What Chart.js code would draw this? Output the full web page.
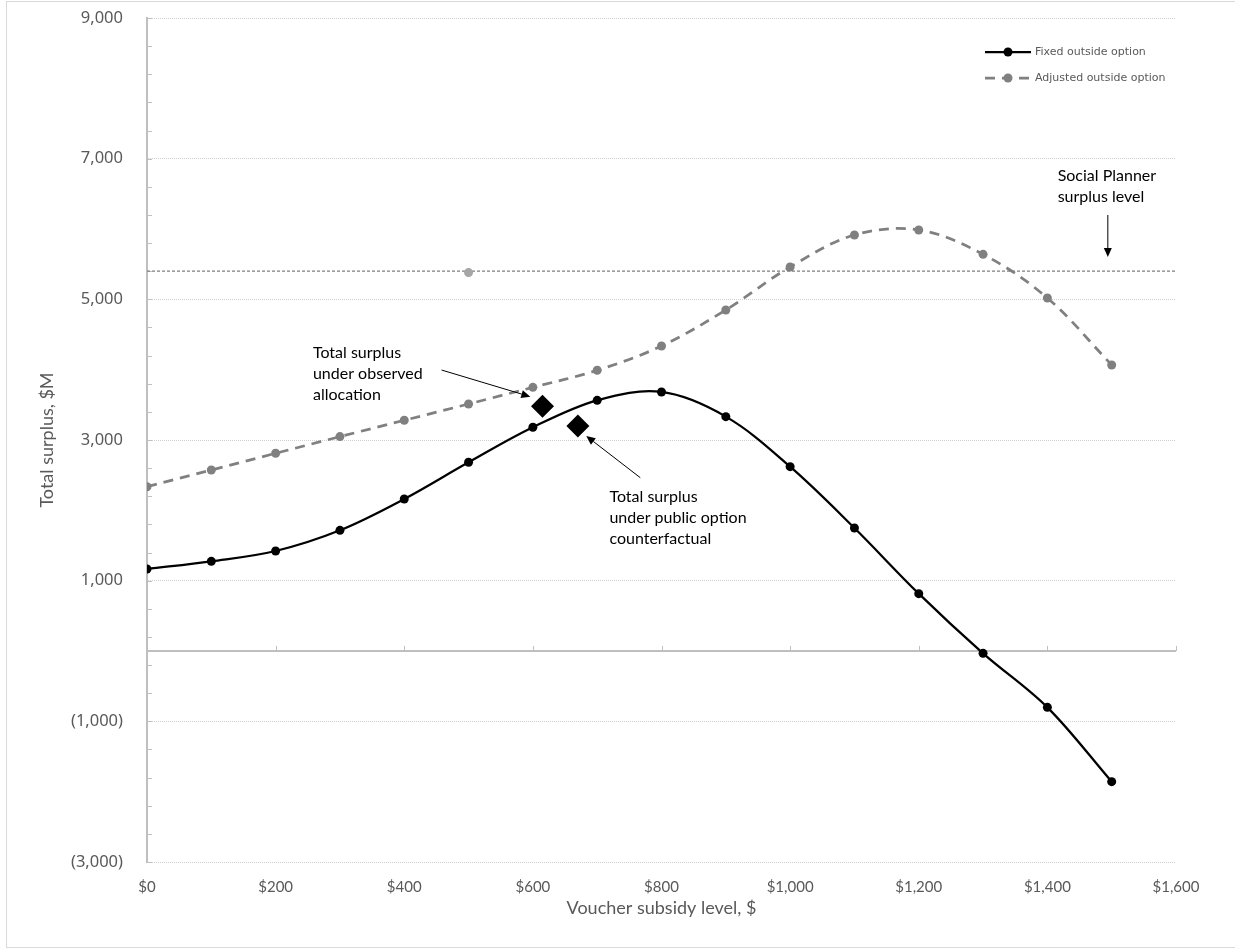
<!DOCTYPE html>
<html>
<head>
<meta charset="utf-8">
<title>Total surplus by voucher subsidy level</title>
<script src="https://cdn.jsdelivr.net/npm/chart.js@4.4.1/dist/chart.umd.min.js"></script>
<style>
  html, body { margin: 0; padding: 0; background: #fff; }
  #wrap { width: 1235px; height: 949px; position: relative; }
</style>
</head>
<body>
<div id="wrap"><canvas id="surplusChart"></canvas></div>
<script>
// valeurs (en $M)
const voucherLevels = [0, 100, 200, 300, 400, 500, 600, 700, 800, 900, 1000, 1100, 1200, 1300, 1400, 1500];
const fixedOutside = [1166, 1275, 1422, 1716, 2161, 2683, 3181, 3564, 3683, 3332, 2621, 1749, 815, -33, -801, -1858];
const adjustedOutside = [2336, 2573, 2811, 3048, 3280, 3512, 3749, 3991, 4337, 4849, 5460, 5915, 5986, 5640, 5019, 4067];
const strayPoint = [{ x: 500, y: 5380 }];
const plannerLevel = 5400;
const observedAllocation = [{ x: 615, y: 3480 }];
const publicOption = [{ x: 670, y: 3200 }];
const yLabelValues = [-3000, -1000, 1000, 3000, 5000, 7000, 9000];

const GREY_TXT = '#595959';
const AXIS_GREY = '#bfbfbf';

function fmtY(v) {
    const s = Math.abs(v).toLocaleString('en-US');
    return v < 0 ? '(' + s + ')' : s;
}
function fmtX(v) { return '$' + v.toLocaleString('en-US'); }

// annotations, positions in data units
const notes = [
    { lines: ['Total surplus', 'under observed', 'allocation'], x: 258, y: 4241, from: [458, 3995], to: [596, 3616] },
    { lines: ['Total surplus', 'under public option', 'counterfactual'], x: 719, y: 2194, from: [767, 2464], to: [683, 3057] },
    { lines: ['Social Planner', 'surplus level'], x: 1416, y: 6754, from: [1494, 6199], to: [1494, 5602] }
];

function arrow(ctx, x1, y1, x2, y2) {
    const a = Math.atan2(y2 - y1, x2 - x1);
    const len = 9, half = 4;
    ctx.beginPath();
    ctx.moveTo(x1, y1);
    ctx.lineTo(x2 - Math.cos(a) * len, y2 - Math.sin(a) * len);
    ctx.stroke();
    ctx.beginPath();
    ctx.moveTo(x2, y2);
    ctx.lineTo(x2 - Math.cos(a) * len - Math.sin(a) * half, y2 - Math.sin(a) * len + Math.cos(a) * half);
    ctx.lineTo(x2 - Math.cos(a) * len + Math.sin(a) * half, y2 - Math.sin(a) * len - Math.cos(a) * half);
    ctx.closePath();
    ctx.fill();
}

const decorations = {
    id: 'decorations',
    beforeDraw(chart) {
        const ctx = chart.ctx;
        ctx.save();
        ctx.strokeStyle = '#d9d9d9';
        ctx.lineWidth = 1;
        ctx.strokeRect(6.5, 1.5, chart.width + 10, chart.height - 3);
        ctx.restore();
    },
    beforeDatasetsDraw(chart) {
        const { ctx, chartArea: ca, scales: { x, y } } = chart;
        ctx.save();
        // petites graduations vers l'intérieur
        ctx.strokeStyle = AXIS_GREY;
        ctx.lineWidth = 1;
        y.ticks.forEach(t => {
            const py = Math.round(y.getPixelForValue(t.value)) + 0.5;
            ctx.beginPath(); ctx.moveTo(ca.left, py); ctx.lineTo(ca.left + 5, py); ctx.stroke();
        });
        // ligne du zéro
        const y0 = Math.round(y.getPixelForValue(0));
        ctx.lineWidth = 2;
        ctx.beginPath(); ctx.moveTo(ca.left, y0); ctx.lineTo(ca.right, y0); ctx.stroke();
        ctx.lineWidth = 1;
        x.ticks.forEach(t => {
            const px = Math.round(x.getPixelForValue(t.value)) + 0.5;
            ctx.beginPath(); ctx.moveTo(px, y0); ctx.lineTo(px, y0 - 5); ctx.stroke();
        });
        ctx.restore();
    },
    afterDatasetsDraw(chart) {
        const { ctx, chartArea: ca, scales: { x, y } } = chart;
        ctx.save();
        // notes + flèches
        ctx.fillStyle = '#000';
        ctx.strokeStyle = '#000';
        ctx.lineWidth = 1;
        ctx.font = '16px Lato';
        ctx.textBaseline = 'middle';
        notes.forEach(n => {
            const px = x.getPixelForValue(n.x), py = y.getPixelForValue(n.y);
            n.lines.forEach((l, i) => ctx.fillText(l, px, py + i * 21));
            arrow(ctx, x.getPixelForValue(n.from[0]), y.getPixelForValue(n.from[1]),
                x.getPixelForValue(n.to[0]), y.getPixelForValue(n.to[1]));
        });
        // légende
        ctx.font = '11px "DejaVu Sans"';
        ctx.fillStyle = GREY_TXT;
        chart.data.datasets.slice(2, 4).forEach((ds, i) => {
            const ly = ca.top + 34 + i * 26;
            const lx1 = ca.right - 191, lx2 = ca.right - 145;
            ctx.save();
            ctx.strokeStyle = ds.borderColor;
            ctx.lineWidth = ds.borderWidth;
            ctx.setLineDash(ds.borderDash || []);
            ctx.beginPath(); ctx.moveTo(lx1, ly); ctx.lineTo(lx2, ly); ctx.stroke();
            ctx.fillStyle = ds.pointBackgroundColor;
            ctx.beginPath(); ctx.arc((lx1 + lx2) / 2, ly, ds.pointRadius, 0, Math.PI * 2); ctx.fill();
            ctx.restore();
            ctx.fillText(ds.label, lx2 + 4, ly);
        });
        ctx.restore();
    }
};

const titleFont = { family: 'Lato, sans-serif', size: 18 };

new Chart('surplusChart', {
    type: 'line',
    data: {
        datasets: [
            { label: 'Observed allocation', data: observedAllocation, showLine: false, pointStyle: 'rectRot',
              pointRadius: 11.5, pointBackgroundColor: '#000', pointBorderColor: '#000', pointBorderWidth: 0 },
            { label: 'Public option counterfactual', data: publicOption, showLine: false, pointStyle: 'rectRot',
              pointRadius: 11.5, pointBackgroundColor: '#000', pointBorderColor: '#000', pointBorderWidth: 0 },
            { label: 'Fixed outside option', data: voucherLevels.map((v, i) => ({ x: v, y: fixedOutside[i] })),
              borderColor: '#000', borderWidth: 2.25, tension: 0.35, pointRadius: 4.5,
              pointBackgroundColor: '#000', pointBorderColor: '#000', pointBorderWidth: 0 },
            { label: 'Adjusted outside option', data: voucherLevels.map((v, i) => ({ x: v, y: adjustedOutside[i] })),
              borderColor: '#808080', borderWidth: 2.75, borderDash: [10, 7], tension: 0.35, pointRadius: 4.5,
              pointBackgroundColor: '#808080', pointBorderColor: '#808080', pointBorderWidth: 0 },
            { label: 'Stray', data: strayPoint, showLine: false, pointRadius: 4.5,
              pointBackgroundColor: '#a6a6a6', pointBorderColor: '#a6a6a6', pointBorderWidth: 0 },
            { label: 'Social Planner surplus level', data: [{ x: 0, y: plannerLevel }, { x: 1600, y: plannerLevel }],
              borderColor: '#7f7f7f', borderWidth: 1.3, borderDash: [3, 2], pointRadius: 0 }
        ]
    },
    options: {
        responsive: true,
        maintainAspectRatio: false,
        animation: false,
        layout: { padding: { left: 20, right: 59, top: 18, bottom: 10 } },
        plugins: { legend: { display: false }, tooltip: { enabled: false } },
        scales: {
            x: {
                type: 'linear', min: 0, max: 1600,
                ticks: { stepSize: 200, callback: fmtX, color: GREY_TXT, padding: 8, maxRotation: 0,
                         font: { family: 'Lato, sans-serif', size: 15 } },
                grid: { display: false },
                border: { display: false },
                title: { display: true, text: 'Voucher subsidy level, $', color: GREY_TXT,
                         font: titleFont, padding: { bottom: 20 } },
                afterFit(scale) { scale.height = 77; }
            },
            y: {
                min: -3000, max: 9000,
                ticks: { stepSize: 400, autoSkip: false, color: GREY_TXT, padding: 24,
                         font: { family: '"Noto Sans"', size: 16.5 },
                         callback: v => yLabelValues.includes(v) ? fmtY(v) : '' },
                grid: { drawTicks: false, lineWidth: 1,
                        color: c => yLabelValues.includes(c.tick && c.tick.value) ? '#d0d0d0' : 'rgba(0,0,0,0)' },
                border: { display: true, color: AXIS_GREY, width: 2, dash: [1, 1] },
                title: { display: true, text: 'Total surplus, $M', color: GREY_TXT,
                         font: titleFont, padding: { top: 16 } },
                afterFit(scale) {
                    scale.width = 127;
                    // la marge des étiquettes ne doit pas pousser la zone du graphique
                    scale.paddingTop = 0;
                    scale.paddingBottom = 0;
                }
            }
        }
    },
    plugins: [decorations]
});
</script>
</body>
</html>
